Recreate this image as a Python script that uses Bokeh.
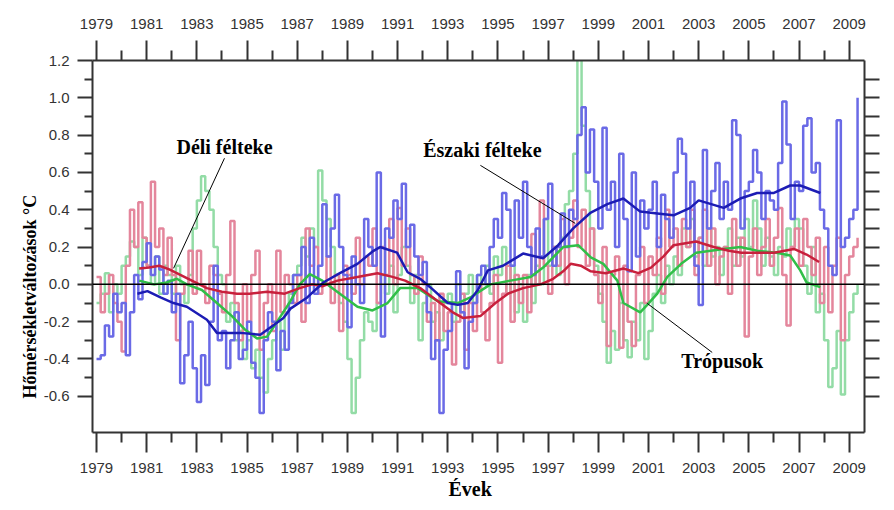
from bokeh.plotting import figure
from bokeh.models import Range1d, LinearAxis, FixedTicker, Label, Span, CustomJSTickFormatter, Title
from bokeh.embed import file_html
from bokeh.resources import INLINE

# ---- data: bimonthly anomalies (deg C), from Jan 1979 ----
start_year = 1979
months_per_step = 2

nh = [  # Északi félteke (blue)
    -0.40, -0.38, -0.22, -0.28, -0.05, -0.15,
    -0.10, -0.38, -0.15, 0.05, -0.08, 0.12,
    0.22, 0.05, 0.15, 0.08, -0.05, 0.02,
    -0.15, -0.05, -0.53, -0.38, -0.20, -0.45,
    -0.63, -0.38, -0.54, -0.20, 0.10, -0.30,
    -0.25, -0.45, -0.30, -0.15, -0.40, -0.35,
    -0.20, -0.42, -0.50, -0.69, -0.30, -0.15,
    -0.20, -0.46, -0.25, -0.35, -0.10, 0.05,
    0.05, 0.20, -0.10, 0.25, -0.05, 0.10,
    0.43, 0.15, 0.30, 0.48, 0.20, 0.05,
    -0.23, 0.15, 0.00, -0.10, 0.35, 0.20,
    0.10, 0.60, -0.28, 0.30, 0.25, 0.45,
    0.35, 0.54, 0.20, 0.32, 0.15, 0.05,
    0.12, -0.15, -0.40, -0.30, -0.69, -0.35,
    -0.25, -0.10, 0.07, -0.15, -0.45, -0.20,
    -0.10, 0.05, 0.10, 0.00, 0.20, 0.35,
    0.25, 0.49, 0.40, 0.10, 0.45, 0.25,
    0.55, 0.20, 0.05, 0.30, 0.15, 0.35,
    0.54, 0.10, 0.20, 0.38, 0.20, 0.40,
    0.35, 0.80, 0.95, 0.60, 0.83, 0.55,
    0.30, 0.84, 0.40, 0.55, 0.20, 0.70,
    0.35, 0.07, 0.60, 0.15, 0.45, 0.30,
    0.40, 0.55, 0.20, 0.48, 0.35, 0.25,
    0.60, 0.78, 0.70, 0.30, 0.55, 0.10,
    -0.11, 0.72, 0.30, 0.50, 0.65, 0.35,
    0.55, 0.40, 0.88, 0.80, 0.30, 0.50,
    0.55, 0.72, 0.60, 0.35, 0.50, 0.45,
    0.40, 0.65, 0.98, 0.75, 0.35, 0.55,
    0.50, 0.85, 0.89, 0.60, 0.65, 0.40,
    0.30, 0.10, 0.05, 0.88, 0.20, 0.25,
    0.35, 0.40, 1.00,
]

sh = [  # Déli félteke (red)
    0.04, -0.15, -0.05, 0.05, -0.10, -0.20,
    -0.36, 0.10, 0.40, 0.20, 0.44, 0.25,
    0.10, 0.55, 0.20, 0.30, 0.05, 0.25,
    0.05, -0.30, -0.05, 0.00, 0.18, -0.05,
    0.18, 0.00, -0.10, 0.10, 0.05, -0.05,
    -0.15, 0.05, 0.34, -0.10, -0.30, 0.00,
    -0.20, 0.05, 0.18, -0.35, -0.10, 0.00,
    -0.25, 0.18, -0.15, 0.05, 0.00, -0.10,
    0.05, -0.20, 0.30, 0.10, 0.20, -0.05,
    0.00, 0.15, -0.10, 0.05, -0.25, 0.10,
    0.05, -0.05, 0.25, 0.00, 0.15, 0.10,
    0.30, -0.10, 0.20, 0.05, 0.35, 0.00,
    0.41, 0.10, 0.30, 0.05, -0.05, 0.15,
    0.00, -0.20, -0.10, -0.30, -0.05, -0.25,
    -0.15, -0.43, -0.20, -0.05, -0.35, -0.10,
    -0.25, 0.00, -0.15, -0.30, -0.10, 0.05,
    -0.42, -0.05, 0.10, -0.20, 0.05, -0.10,
    0.05, -0.15, 0.27, 0.00, 0.45, 0.10,
    -0.05, 0.20, 0.10, 0.35, 0.00, 0.25,
    0.45, 0.20, 0.40, 0.10, 0.30, 0.05,
    -0.10, 0.20, -0.33, 0.05, 0.15, -0.34,
    0.10, -0.20, -0.33, 0.05, 0.20, -0.10,
    0.15, 0.05, 0.25, -0.05, 0.40, 0.20,
    0.30, 0.10, 0.35, 0.20, 0.40, 0.05,
    0.25, 0.40, 0.10, 0.30, 0.00, 0.15,
    0.20, -0.05, 0.35, 0.10, 0.25, -0.28,
    0.15, 0.30, 0.05, 0.20, 0.35, 0.10,
    0.25, 0.41, 0.05, -0.22, 0.20, 0.30,
    0.10, 0.35, 0.20, 0.05, 0.25, -0.10,
    0.20, -0.15, 0.10, 0.25, -0.30, 0.05,
    0.15, 0.20, 0.25,
]

tr = [  # Trópusok (green)
    -0.10, -0.05, 0.06, -0.15, 0.00, -0.05,
    0.10, 0.15, 0.23, 0.20, 0.05, 0.25,
    0.10, 0.00, 0.15, -0.05, 0.10, 0.05,
    -0.05, 0.10, 0.00, -0.10, 0.05, 0.30,
    0.45, 0.58, 0.50, 0.40, 0.20, 0.05,
    0.00, -0.20, -0.10, -0.30, -0.25, -0.40,
    -0.30, -0.45, -0.35, -0.50, -0.58, -0.40,
    -0.30, -0.20, -0.35, -0.15, -0.05, 0.05,
    0.10, 0.25, 0.15, 0.30, 0.20, 0.61,
    0.45, 0.35, 0.20, 0.05, -0.10, -0.20,
    -0.40, -0.69, -0.50, -0.30, -0.15, -0.20,
    -0.25, -0.10, 0.05, -0.05, 0.10, -0.15,
    0.05, 0.20, 0.10, -0.10, 0.05, -0.30,
    -0.10, 0.00, -0.20, -0.15, -0.30, -0.10,
    -0.05, -0.20, 0.00, -0.15, -0.05, 0.05,
    -0.10, 0.05, 0.00, 0.10, -0.05, 0.15,
    0.05, 0.20, -0.05, 0.10, -0.15, 0.00,
    -0.20, 0.05, -0.10, 0.10, 0.00, 0.35,
    0.10, 0.20, 0.05, 0.25, 0.43, 0.50,
    0.70, 1.30, 0.85, 0.50, 0.30, 0.10,
    -0.05, -0.20, -0.42, -0.25, -0.35, -0.10,
    -0.30, -0.39, -0.20, -0.30, -0.10, -0.40,
    -0.25, -0.05, 0.05, -0.10, 0.10, 0.00,
    0.15, 0.05, 0.30, 0.20, 0.35, 0.15,
    0.25, 0.10, 0.30, 0.15, 0.20, 0.05,
    0.20, 0.30, 0.10, 0.25, 0.15, 0.35,
    0.20, 0.45, 0.30, 0.10, 0.25, 0.15,
    0.05, 0.20, 0.15, 0.30, 0.20, 0.35,
    0.30, 0.10, -0.05, 0.20, -0.15, -0.05,
    -0.30, -0.55, -0.45, -0.25, -0.59, -0.30,
    -0.15, -0.05, 0.00,
]

# ---- running means ----
nh_smooth_x = [1980.63, 1981.03, 1981.55, 1982.07, 1982.6, 1983.4, 1983.8, 1984.74, 1985.53,
               1986.45, 1986.73, 1987.4, 1988.04, 1988.7, 1989.4, 1990.04, 1990.3, 1990.98,
               1991.4, 1991.9, 1992.3, 1993.0, 1993.4, 1993.8, 1994.2, 1994.6, 1995.2, 1996.0,
               1996.8, 1997.4, 1998.0, 1998.7, 1999.36, 2000.0, 2000.67, 2001.35, 2002.0,
               2002.66, 2003.0, 2004.0, 2004.66, 2005.33, 2006.0, 2006.65, 2007.05, 2007.85]
nh_smooth_y = [-0.05, -0.036, -0.07, -0.10, -0.12, -0.19, -0.26, -0.26, -0.27,
               -0.18, -0.13, -0.07, 0.01, 0.06, 0.11, 0.18, 0.20, 0.17,
               0.065, 0.03, -0.015, -0.10, -0.11, -0.10, -0.03, 0.075, 0.10, 0.165,
               0.14, 0.21, 0.30, 0.385, 0.43, 0.46, 0.39, 0.38, 0.37,
               0.41, 0.45, 0.41, 0.46, 0.49, 0.49, 0.53, 0.53, 0.49]

sh_smooth_x = [1980.7, 1981.1, 1981.5, 1981.9, 1982.2, 1982.8, 1983.4, 1984.0, 1984.6, 1985.1,
               1985.8, 1986.5, 1987.1, 1987.6, 1988.0, 1988.6, 1989.4, 1990.2, 1990.8, 1991.3,
               1991.9, 1992.7, 1993.2, 1993.6, 1994.3, 1994.9, 1995.4, 1996.0, 1996.7, 1997.2,
               1997.6, 1997.9, 1998.3, 1998.7, 1999.3, 2000.0, 2000.6, 2001.1, 2001.6, 2002.0,
               2002.9, 2003.6, 2004.2, 2004.7, 2005.4, 2006.0, 2006.8, 2007.3, 2007.8]
sh_smooth_y = [0.085, 0.09, 0.10, 0.08, 0.06, 0.02, -0.02, -0.04, -0.05, -0.05,
               -0.04, -0.05, -0.02, 0.0, -0.01, 0.02, 0.04, 0.06, 0.04, 0.02,
               -0.02, -0.10, -0.15, -0.18, -0.17, -0.10, -0.05, -0.02, 0.0, 0.03,
               0.07, 0.11, 0.10, 0.07, 0.06, 0.085, 0.06, 0.09, 0.15, 0.21,
               0.23, 0.20, 0.18, 0.17, 0.17, 0.17, 0.19, 0.16, 0.12]

tr_smooth_x = [1980.7, 1981.3, 1981.8, 1982.2, 1982.6, 1983.2, 1983.8, 1984.4, 1984.9, 1985.4,
               1985.8, 1986.2, 1986.73, 1987.1, 1987.5, 1988.0, 1988.7, 1989.4, 1990.0, 1990.6,
               1991.1, 1991.8, 1992.6, 1993.4, 1993.9, 1994.7, 1995.5, 1996.3, 1996.8, 1997.6,
               1998.2, 1998.7, 1999.2, 1999.76, 2000.0, 2000.67, 2000.95, 2001.35, 2001.75,
               2002.3, 2002.9, 2004.0, 2004.66, 2005.33, 2006.1, 2006.65, 2007.05, 2007.3, 2007.85]
tr_smooth_y = [0.02, 0.0, 0.01, 0.03, 0.0, -0.03, -0.10, -0.17, -0.24, -0.29,
               -0.28, -0.20, -0.09, 0.0, 0.055, 0.02, -0.05, -0.12, -0.14, -0.10,
               -0.02, -0.02, -0.09, -0.10, -0.07, 0.0, 0.02, 0.04, 0.09, 0.20,
               0.21, 0.145, 0.11, 0.02, -0.10, -0.15, -0.11, -0.05, 0.04,
               0.11, 0.17, 0.19, 0.20, 0.18, 0.17, 0.155, 0.075, 0.01, -0.015]

x_major = [1979, 1981, 1983, 1985, 1987, 1989, 1991, 1993, 1995, 1997, 1999, 2001, 2003, 2005, 2007, 2009]
x_minor = [1980, 1982, 1984, 1986, 1988, 1990, 1992, 1994, 1996, 1998, 2000, 2002, 2004, 2006, 2008]
y_major = [-0.6, -0.4, -0.2, 0.0, 0.2, 0.4, 0.6, 0.8, 1.0, 1.2]
y_minor = [-0.5, -0.3, -0.1, 0.1, 0.3, 0.5, 0.7, 0.9, 1.1]
y_right = [-0.6, -0.5, -0.4, -0.3, -0.2, -0.1, 0.0, 0.1, 0.2, 0.3, 0.4, 0.5, 0.6, 0.7, 0.8, 0.9, 1.0, 1.1]


def times(vals):
    return [start_year + i * months_per_step / 12.0 for i in range(len(vals))]


p = figure(width=886, height=502, output_backend="svg", toolbar_location=None,
           x_range=Range1d(1978.84, 2009.61), y_range=Range1d(-0.794, 1.2),
           x_axis_location=None, y_axis_location=None,
           min_border_left=92, min_border_right=22, min_border_top=60, min_border_bottom=70)
p.grid.visible = False
p.outline_line_color = None
p.background_fill_color = "white"

AX = "#333333"
TICKFONT = "Liberation Sans"


def style_axis(ax, labels=True):
    ax.axis_line_color = AX
    ax.axis_line_width = 2
    ax.major_tick_line_color = AX
    ax.major_tick_line_width = 2
    ax.minor_tick_line_color = AX
    ax.minor_tick_line_width = 2
    ax.major_tick_in = 0
    ax.minor_tick_in = 0
    ax.major_label_text_font = TICKFONT
    ax.major_label_text_font_size = "15px"
    ax.major_label_text_color = AX if labels else None


xfmt = CustomJSTickFormatter(code="return tick.toFixed(0);")
yfmt = CustomJSTickFormatter(code="return tick.toFixed(1);")

bottom = LinearAxis(ticker=FixedTicker(ticks=x_major, minor_ticks=x_minor), formatter=xfmt)
style_axis(bottom)
bottom.major_tick_out = 20
bottom.minor_tick_out = 10
bottom.major_label_standoff = 10
p.add_layout(bottom, "below")

top = LinearAxis(ticker=FixedTicker(ticks=x_major, minor_ticks=x_minor), formatter=xfmt)
style_axis(top)
top.major_tick_out = 20
top.minor_tick_out = 10
top.major_label_standoff = 12
p.add_layout(top, "above")

left = LinearAxis(ticker=FixedTicker(ticks=y_major, minor_ticks=y_minor), formatter=yfmt)
style_axis(left)
left.major_tick_out = 15
left.minor_tick_out = 8
left.major_label_standoff = 8
p.add_layout(left, "left")

right = LinearAxis(ticker=FixedTicker(ticks=y_right, minor_ticks=[]), formatter=yfmt)
style_axis(right, labels=False)
right.major_tick_out = 15
right.minor_tick_out = 0
p.add_layout(right, "right")

SERIF = "Liberation Serif"

# axis titles as side-panel titles (real text)
p.add_layout(Title(text="Hőmérsékletváltozások °C", align="left", offset=34, standoff=2,
                   text_font=SERIF, text_font_style="bold", text_font_size="18px",
                   text_color="black"), "left")
p.add_layout(Title(text="Évek", align="left", offset=356, standoff=0,
                   text_font=SERIF, text_font_style="bold", text_font_size="20px",
                   text_color="black"), "below")

# raw monthly-style step lines
p.step(times(tr), tr, mode="after", line_color="#93dca6", line_width=2.5)
p.step(times(sh), sh, mode="after", line_color="#e4869c", line_width=2.5)
p.step(times(nh), nh, mode="after", line_color="#6a6ae6", line_width=2.5)

# zero line
p.add_layout(Span(location=0, dimension="width", line_color="black", line_width=1.5))

# running means
p.line(tr_smooth_x, tr_smooth_y, line_color="#30bf48", line_width=2.5)
p.line(sh_smooth_x, sh_smooth_y, line_color="#c8203c", line_width=2.5)
p.line(nh_smooth_x, nh_smooth_y, line_color="#1c1cb4", line_width=2.5)

# annotations (leader lines + labels)
p.line([1984.10, 1982.07], [0.676, 0.086], line_color="black", line_width=1)
p.line([1994.30, 1998.08], [0.638, 0.327], line_color="black", line_width=1)
p.line([2000.95, 2003.54], [-0.102, -0.365], line_color="black", line_width=1)

for txt, x, y in [("Déli félteke", 1984.10, 0.735), ("Északi félteke", 1994.38, 0.72),
                  ("Trópusok", 2003.94, -0.413)]:
    p.add_layout(Label(x=x, y=y, text=txt, text_font=SERIF, text_font_style="bold",
                       text_font_size="20px", text_align="center", text_baseline="middle",
                       text_color="black"))

open("out.html", "w").write(file_html(p, INLINE))
